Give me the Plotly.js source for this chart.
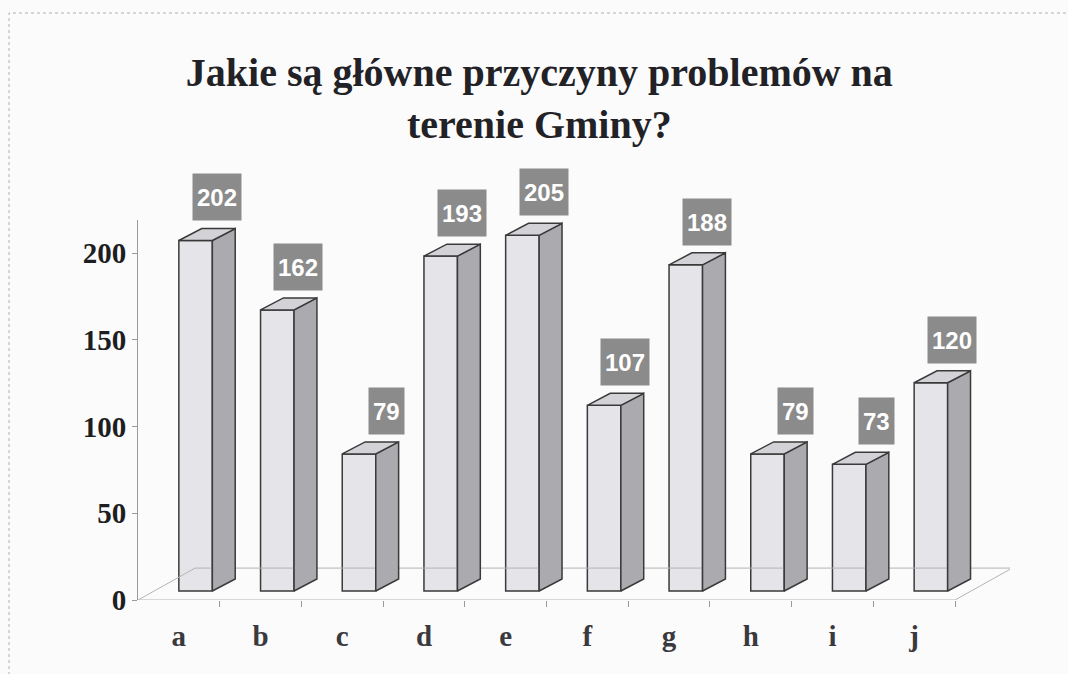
<!DOCTYPE html>
<html>
<head>
<meta charset="utf-8">
<script src="https://cdn.plot.ly/plotly-3.0.1.min.js"></script>
<style>html,body{margin:0;padding:0;background:#fbfbfb;}#chart{width:1068px;height:674px;}</style>
</head>
<body>
<div id="chart"></div>
<script>
// ---- data ----
const categories = ['a', 'b', 'c', 'd', 'e', 'f', 'g', 'h', 'i', 'j'];
const values = [202, 162, 79, 193, 205, 107, 188, 79, 73, 120];
const yTicks = [0, 50, 100, 150, 200];
const titleText = 'Jakie są główne przyczyny problemów na<br>terenie Gminy?';

// ---- 3D look geometry (axis units) ----
const BASE = 5.2;      // bar floor lift
const W = 0.41;        // front face width
const DX = 0.28;       // bar depth, x
const DY = 6.9;        // bar depth, y
const FDX = 0.70;      // floor depth, x
const FDY = 18.4;      // floor depth, y
const LBL_DX = 0.77;
const LBL_DY = 11;

const idx = categories.map((c, i) => i);
const n = categories.length;

const L = 138, R = 58, T = 220, B = 74, WID = 1068, HEI = 674;
const pw = WID - L - R, ph = HEI - T - B;
const YMAX = ph / 1.735;

// floor
const floor = {
  type: 'scatter', mode: 'lines', hoverinfo: 'skip', showlegend: false,
  x: [-0.5, n - 0.5, n - 0.5 + FDX, -0.5 + FDX, -0.5],
  y: [0, 0, FDY, FDY, 0],
  line: {color: '#b4b4b4', width: 1}
};

// front faces
const front = {
  type: 'bar', x: idx.map(i => i + W / 2), y: values, base: values.map(() => BASE),
  width: W, showlegend: false, hoverinfo: 'skip',
  marker: {color: '#e5e5e9', line: {color: '#3a3a3a', width: 1.5}}
};

// side faces & top faces
const sx = [], sy = [], tx = [], ty = [];
values.forEach((v, i) => {
  const xl = i, xr = i + W, top = BASE + v;
  sx.push(xr, xr + DX, xr + DX, xr, xr, null);
  sy.push(BASE, BASE + DY, top + DY, top, BASE, null);
  tx.push(xl, xr, xr + DX, xl + DX, xl, null);
  ty.push(top, top, top + DY, top + DY, top, null);
});
const side = {
  type: 'scatter', mode: 'lines', x: sx, y: sy, fill: 'toself', fillcolor: '#ababaf',
  line: {color: '#3a3a3a', width: 1.5}, hoverinfo: 'skip', showlegend: false
};
const topFace = {
  type: 'scatter', mode: 'lines', x: tx, y: ty, fill: 'toself', fillcolor: '#d3d3d7',
  line: {color: '#3a3a3a', width: 1.5}, hoverinfo: 'skip', showlegend: false
};

// data labels (y in paper units so labels above the axis range still show)
const annotations = values.map((v, i) => ({
  x: i + LBL_DX, y: (BASE + v + LBL_DY) / YMAX, xref: 'x', yref: 'paper',
  text: String(v), showarrow: false, xanchor: 'right', yanchor: 'bottom',
  font: {family: 'Liberation Sans, Arial, sans-serif', size: 24, color: '#ffffff', weight: 'bold'},
  bgcolor: '#8b8b8b', borderpad: 4, height: 38, valign: 'middle'
}));

// frame around the chart
const shapes = [{
  type: 'rect', xref: 'paper', yref: 'paper',
  x0: (9 - L) / pw, x1: (WID + 10 - L) / pw,
  y0: (HEI - B - (HEI + 10)) / ph, y1: (HEI - B - 13) / ph,
  line: {color: '#b0b0b0', width: 1, dash: 'dot'}, fillcolor: 'rgba(0,0,0,0)', layer: 'below'
}];

const layout = {
  width: WID, height: HEI,
  margin: {l: L, r: R, t: T, b: B, pad: 0},
  paper_bgcolor: '#fbfbfb', plot_bgcolor: '#fbfbfb',
  showlegend: false,
  title: {
    text: titleText, x: 0.505, xref: 'container', y: 1 - 86 / HEI, yref: 'container',
    xanchor: 'center', yanchor: 'middle',
    font: {family: 'Liberation Serif, Times New Roman, serif', size: 40, color: '#222226', weight: 'bold'}
  },
  xaxis: {
    range: [-0.5, -0.5 + pw / 81.7], showgrid: false, zeroline: false, showline: false,
    tickmode: 'array', tickvals: idx, ticktext: categories, ticks: '',
    ticklabelstandoff: 16,
    tickfont: {family: 'Liberation Serif, Times New Roman, serif', size: 29, color: '#3a3a3e', weight: 'bold'},
    minor: {tickmode: 'array', tickvals: idx.map(i => i + 0.5), ticks: 'outside', ticklen: 6, tickcolor: '#999', tickwidth: 1, showgrid: false},
    fixedrange: true
  },
  yaxis: {
    range: [0, YMAX], showgrid: false, zeroline: false, showline: true, linecolor: '#9a9a9a', linewidth: 1,
    tickmode: 'array', tickvals: yTicks, ticks: 'outside', ticklen: 5, tickcolor: '#9a9a9a',
    tickfont: {family: 'Liberation Serif, Times New Roman, serif', size: 29, color: '#1e1e22', weight: 'bold'},
    fixedrange: true
  },
  shapes: shapes,
  annotations: annotations
};

Plotly.newPlot('chart', [floor, front, side, topFace], layout, {staticPlot: true});
</script>
</body>
</html>
